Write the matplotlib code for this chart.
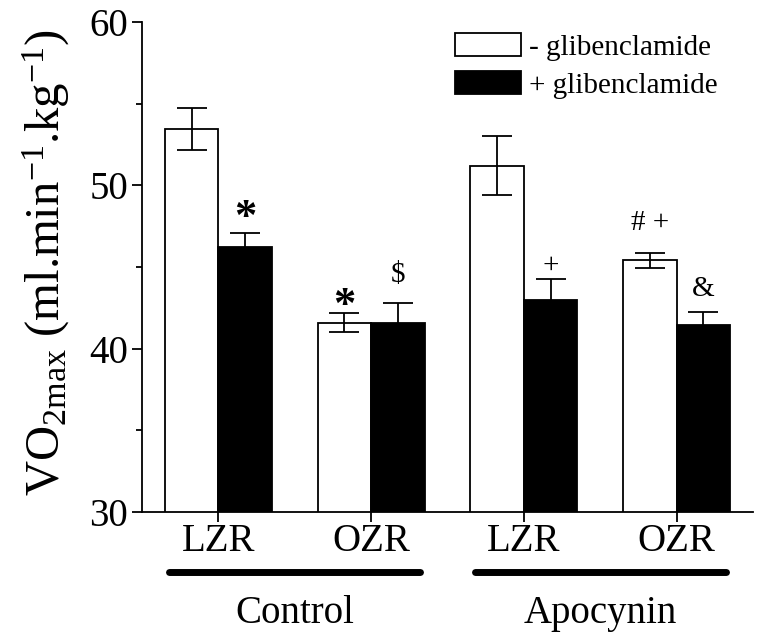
import numpy as np
import matplotlib
matplotlib.use('Agg')
import matplotlib.pyplot as plt
from matplotlib.transforms import blended_transform_factory

# values
groups = ['Control', 'Apocynin']
strains = ['LZR', 'OZR', 'LZR', 'OZR']
minus_glib = [53.45, 41.6, 51.2, 45.4]
minus_err = [1.3, 0.6, 1.82, 0.48]
plus_glib = [46.25, 41.6, 43.0, 41.43]
plus_err = [0.82, 1.2, 1.25, 0.84]
minus_sig = ['', '*', '', '# +']
plus_sig = ['*', '$', '+', '&']

plt.rcParams['font.family'] = ['Liberation Serif', 'DejaVu Serif']
plt.rcParams['mathtext.fontset'] = 'custom'
plt.rcParams['mathtext.rm'] = 'Liberation Serif'
plt.rcParams['mathtext.it'] = 'Liberation Serif:italic'
plt.rcParams['mathtext.bf'] = 'Liberation Serif:bold'

fig = plt.figure(figsize=(7.62, 6.4), dpi=100)
ax = fig.add_axes([142 / 762, 128 / 640, 611 / 762, 490 / 640])

x = np.arange(len(strains))
w = 0.35
lw = 1.3

ax.bar(x - w / 2, minus_glib, w, color='white', edgecolor='black', linewidth=lw,
       label='- glibenclamide', zorder=2)
ax.bar(x + w / 2, plus_glib, w, color='black', edgecolor='black', linewidth=lw,
       label='+ glibenclamide', zorder=2)
ax.errorbar(x - w / 2, minus_glib, yerr=minus_err, fmt='none', ecolor='black',
            elinewidth=lw, capsize=10.5, capthick=lw, zorder=3)
ax.errorbar(x + w / 2, plus_glib, yerr=plus_err, fmt='none', ecolor='black',
            elinewidth=lw, capsize=10.5, capthick=lw, zorder=3)

# significance marks, gap above the error bar in points
minus_gap = [0, 4.5, 0, 21]
plus_gap = [11, 20, 10, 16]
for xs, vals, errs, sigs, gaps in [(x - w / 2, minus_glib, minus_err, minus_sig, minus_gap),
                                   (x + w / 2, plus_glib, plus_err, plus_sig, plus_gap)]:
    for xi, v, e, s, g in zip(xs, vals, errs, sigs, gaps):
        if not s:
            continue
        if s == '*':
            ax.annotate('*', (xi, v + e), xytext=(0, g), textcoords='offset points',
                        ha='center', va='center', fontsize=32, fontweight='bold')
        else:
            ax.annotate(s.replace('$', r'\$'), (xi, v + e), xytext=(0, g),
                        textcoords='offset points', ha='center', va='center', fontsize=21)

ax.set_xlim(-0.5, 3.5)
ax.set_ylim(30, 60)
ax.set_yticks([30, 40, 50, 60])
ax.set_yticks([35, 45, 55], minor=True)
ax.set_xticks(x)
ax.set_xticklabels(strains)
ax.tick_params(axis='both', which='major', direction='out', length=7, width=lw,
               labelsize=28)
ax.tick_params(axis='y', which='minor', direction='out', length=4, width=lw)
ax.tick_params(axis='x', pad=1)
ax.tick_params(axis='y', pad=3)
for side in ['top', 'right']:
    ax.spines[side].set_visible(False)
for side in ['left', 'bottom']:
    ax.spines[side].set_linewidth(lw)

# group underlines and names
trans = blended_transform_factory(ax.transData, ax.transAxes)
for i, name in enumerate(groups):
    c = 2 * i + 0.5
    ax.plot([c - 0.82, c + 0.82], [-0.1224, -0.1224], transform=trans, color='black',
            linewidth=5, solid_capstyle='round', clip_on=False)
    ax.text(c, -0.2265, name, transform=trans, ha='center', va='baseline', fontsize=28)

fig.text(46 / 762, 1 - 262 / 640,
         r'VO$_{\mathregular{2max}}$ (ml.min$^{\mathregular{-1}}$.kg$^{\mathregular{-1}}$)',
         rotation=90, ha='center', va='center', fontsize=35)

ax.legend(loc='upper left', bbox_to_anchor=(455 / 762, 1 - 33 / 640),
          bbox_transform=fig.transFigure, frameon=False, fontsize=21, borderpad=0,
          borderaxespad=0, handlelength=2.25, handleheight=0.86, handletextpad=0.3,
          labelspacing=0.35)

plt.savefig('out.png', dpi=100)
